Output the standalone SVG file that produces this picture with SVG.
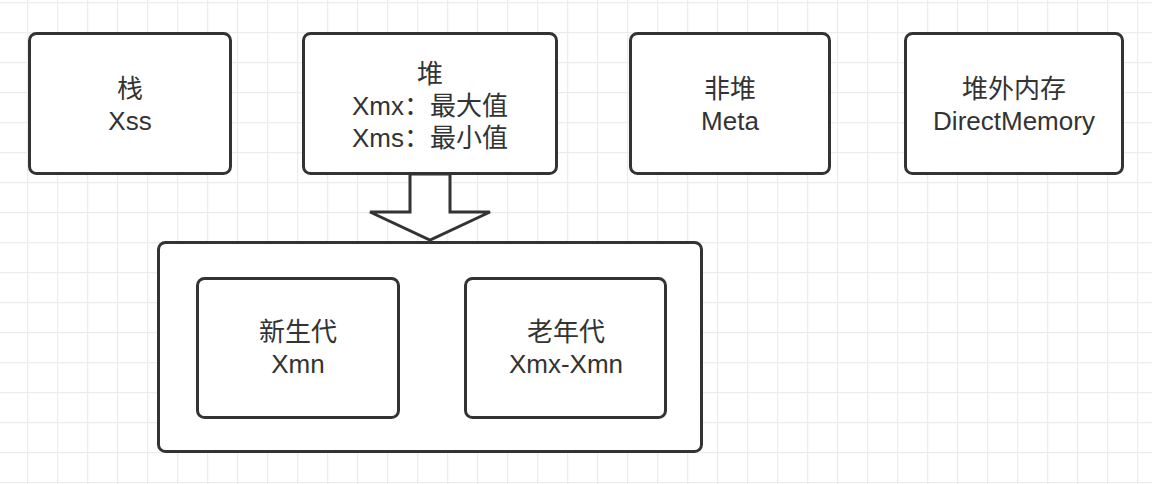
<svg xmlns="http://www.w3.org/2000/svg" width="1152" height="484" viewBox="0 0 1152 484">
<style>
.box{fill:#fff;stroke:#333;stroke-width:3}
.t{font-family:"Liberation Sans","Noto Sans CJK SC",sans-serif;font-size:26px;fill:#333;text-anchor:middle}
</style>
<defs>
<pattern id="grid" x="27" y="2" width="30" height="30" patternUnits="userSpaceOnUse">
<path d="M0.5 0V30M0 0.5H30" fill="none" stroke="#ececec" stroke-width="1.5"/>
</pattern>
</defs>
<rect width="1152" height="484" fill="#fff"/>
<rect width="1152" height="484" fill="url(#grid)"/>
<g id="connectors">
<polygon class="box" points="410,174 410,212 370,212 430,240 490,212 450,212 450,174"/>
</g>
<g id="stack">
<rect class="box" x="29.5" y="33.5" width="201" height="140" rx="7"/>
<text class="t" x="130" y="98">栈</text>
<text class="t" x="130" y="130">Xss</text>
</g>
<g id="heap">
<rect class="box" x="303.5" y="33.5" width="253" height="140" rx="7"/>
<text class="t" x="430" y="83">堆</text>
<text class="t" x="430" y="115">Xmx：最大值</text>
<text class="t" x="430" y="147">Xms：最小值</text>
</g>
<g id="nonheap">
<rect class="box" x="630.5" y="33.5" width="199" height="140" rx="7"/>
<text class="t" x="730" y="98">非堆</text>
<text class="t" x="730" y="130">Meta</text>
</g>
<g id="direct">
<rect class="box" x="905.5" y="33.5" width="217" height="140" rx="7"/>
<text class="t" x="1014" y="98">堆外内存</text>
<text class="t" x="1014" y="130">DirectMemory</text>
</g>
<g id="heapdetail">
<rect class="box" x="158.5" y="242.5" width="543" height="209" rx="7"/>
</g>
<g id="young">
<rect class="box" x="197.5" y="278.5" width="201" height="139" rx="7"/>
<text class="t" x="298" y="341">新生代</text>
<text class="t" x="298" y="373">Xmn</text>
</g>
<g id="old">
<rect class="box" x="465.5" y="278.5" width="200" height="139" rx="7"/>
<text class="t" x="566" y="341">老年代</text>
<text class="t" x="566" y="373">Xmx-Xmn</text>
</g>
</svg>
